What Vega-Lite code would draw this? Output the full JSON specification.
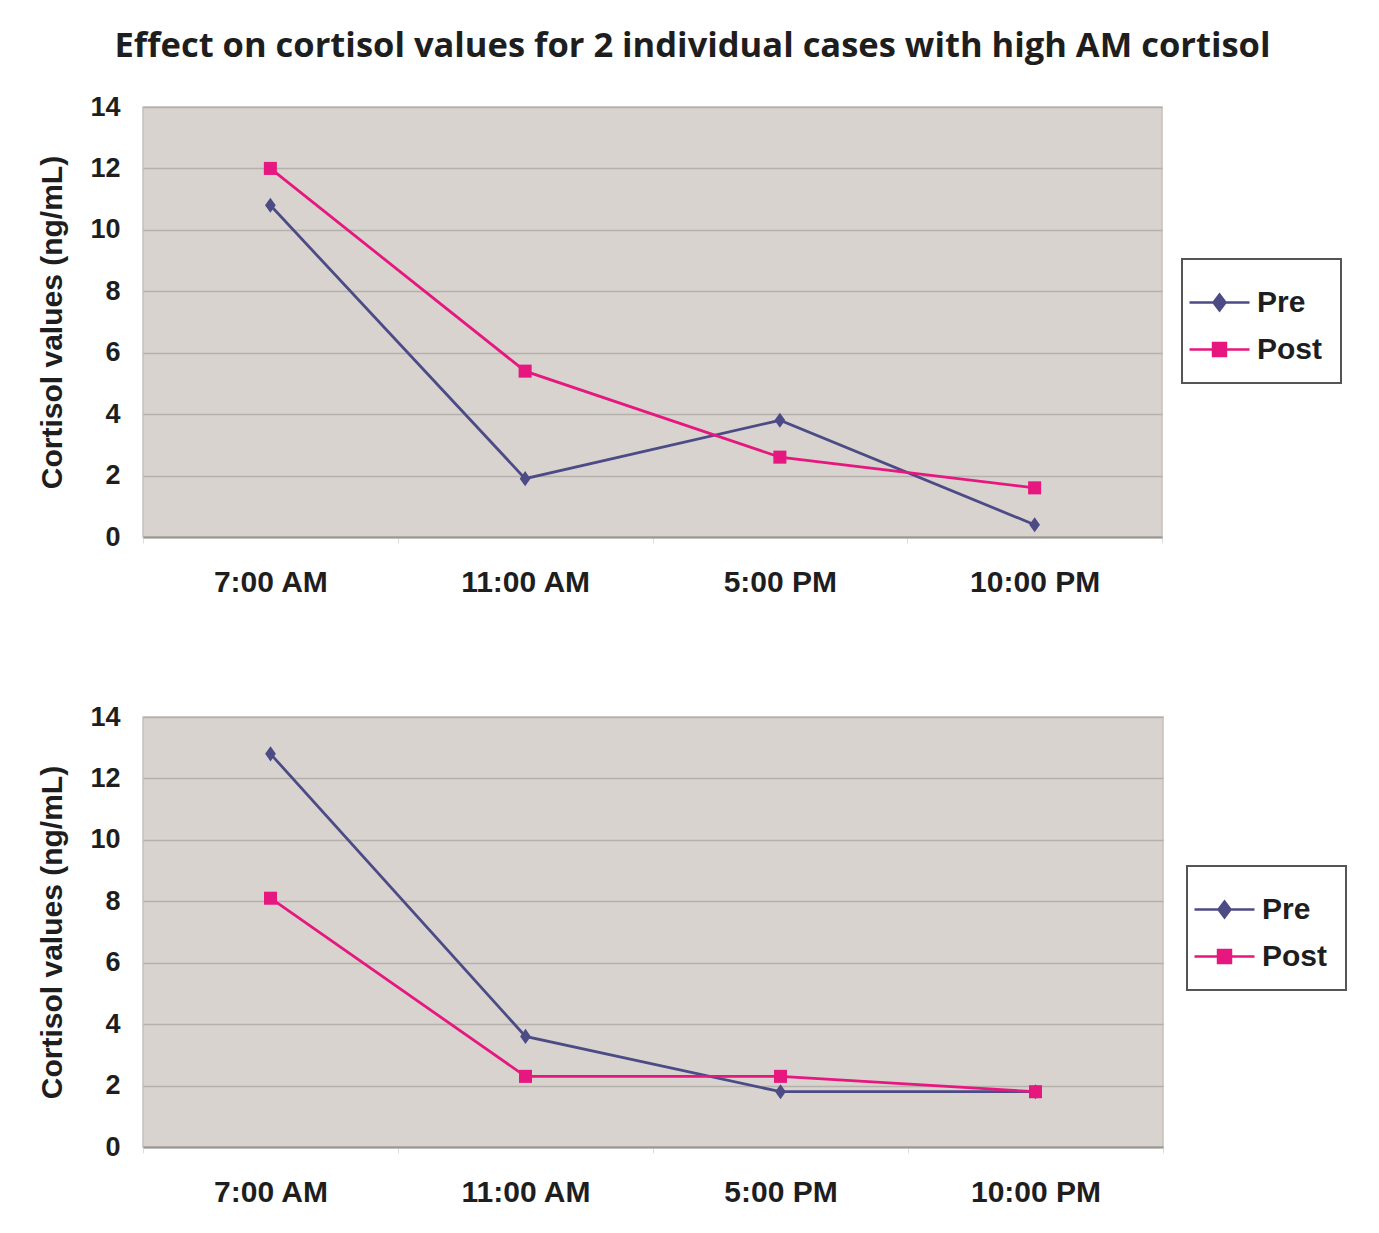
{
  "$schema": "https://vega.github.io/schema/vega-lite/v6.json",
  "padding": {"left": 37, "top": 28, "right": 10, "bottom": 5},
  "background": "white",
  "title": {
    "text": "Effect on cortisol values for 2 individual cases with high AM cortisol",
    "font": "Open Sans",
    "fontWeight": "bold",
    "fontSize": 34.5,
    "color": "#1e1e1e",
    "anchor": "middle",
    "offset": 28
  },
  "data": {
    "values": [
      {"case": 1, "time": "7:00 AM", "series": "Pre", "cortisol": 10.8},
      {"case": 1, "time": "11:00 AM", "series": "Pre", "cortisol": 1.9},
      {"case": 1, "time": "5:00 PM", "series": "Pre", "cortisol": 3.8},
      {"case": 1, "time": "10:00 PM", "series": "Pre", "cortisol": 0.4},
      {"case": 1, "time": "7:00 AM", "series": "Post", "cortisol": 12.0},
      {"case": 1, "time": "11:00 AM", "series": "Post", "cortisol": 5.4},
      {"case": 1, "time": "5:00 PM", "series": "Post", "cortisol": 2.6},
      {"case": 1, "time": "10:00 PM", "series": "Post", "cortisol": 1.6},
      {"case": 2, "time": "7:00 AM", "series": "Pre", "cortisol": 12.8},
      {"case": 2, "time": "11:00 AM", "series": "Pre", "cortisol": 3.6},
      {"case": 2, "time": "5:00 PM", "series": "Pre", "cortisol": 1.8},
      {"case": 2, "time": "10:00 PM", "series": "Pre", "cortisol": 1.8},
      {"case": 2, "time": "7:00 AM", "series": "Post", "cortisol": 8.1},
      {"case": 2, "time": "11:00 AM", "series": "Post", "cortisol": 2.3},
      {"case": 2, "time": "5:00 PM", "series": "Post", "cortisol": 2.3},
      {"case": 2, "time": "10:00 PM", "series": "Post", "cortisol": 1.8}
    ]
  },
  "spacing": 104,
  "vconcat": [
    {
      "width": 1019,
      "height": 430,
      "transform": [{"filter": "datum.case === 1"}],
      "encoding": {
        "x": {
          "field": "time", "type": "ordinal",
          "sort": ["7:00 AM", "11:00 AM", "5:00 PM", "10:00 PM"],
          "scale": {"type": "band", "paddingInner": 0, "paddingOuter": 0},
          "bandPosition": 0.5,
          "title": null
        },
        "y": {
          "field": "cortisol", "type": "quantitative",
          "scale": {"domain": [0, 14], "nice": false},
          "axis": {"values": [0, 2, 4, 6, 8, 10, 12, 14]},
          "title": "Cortisol values (ng/mL)"
        }
      },
      "layer": [
        {
          "mark": {"type": "line", "strokeWidth": 2.8},
          "encoding": {
            "color": {
              "field": "series", "type": "nominal",
              "scale": {"domain": ["Pre", "Post"], "range": ["#4d4b86", "#e6177e"]},
              "legend": {
                "orient": "none", "legendX": 1039, "legendY": 152,
                "title": null,
                "padding": 18,
                "symbolSize": 2304,
                "symbolStrokeWidth": 2.5,
                "symbolOffset": -6,
                "labelOffset": 12,
                "rowPadding": 6,
                "labelFont": "Liberation Sans", "labelFontWeight": "bold", "labelFontSize": 30, "labelColor": "#1e1e1e",
                "strokeColor": "#555555",
                "fillColor": "white",
                "encode": {
                  "legend": {"update": {"strokeWidth": {"value": 2}}},
                  "symbols": {"update": {
                    "shape": {"signal": "datum.value === 'Pre' ? 'M-1.25,0H1.25M0,-0.33L0.25,0L0,0.33L-0.25,0Z' : 'M-1.25,0H1.25M-0.27,-0.27H0.27V0.27H-0.27Z'"},
                    "fill": {"signal": "datum.value === 'Pre' ? '#4d4b86' : '#e6177e'"},
                    "stroke": {"signal": "datum.value === 'Pre' ? '#4d4b86' : '#e6177e'"},
                    "opacity": {"value": 1}
                  }}
                }
              }
            }
          }
        },
        {
          "transform": [{"filter": "datum.series === 'Pre'"}],
          "mark": {"type": "point", "shape": "M0,-1.2L0.85,0L0,1.2L-0.85,0Z", "filled": true, "opacity": 1, "size": 160},
          "encoding": {
            "color": {"field": "series", "type": "nominal", "scale": {"domain": ["Pre", "Post"], "range": ["#4d4b86", "#e6177e"]}, "legend": null}
          }
        },
        {
          "transform": [{"filter": "datum.series === 'Post'"}],
          "mark": {"type": "point", "shape": "square", "filled": true, "opacity": 1, "size": 170},
          "encoding": {
            "color": {"field": "series", "type": "nominal", "scale": {"domain": ["Pre", "Post"], "range": ["#4d4b86", "#e6177e"]}, "legend": null}
          }
        }
      ]
    },
    {
      "width": 1020,
      "height": 430,
      "transform": [{"filter": "datum.case === 2"}],
      "encoding": {
        "x": {
          "field": "time", "type": "ordinal",
          "sort": ["7:00 AM", "11:00 AM", "5:00 PM", "10:00 PM"],
          "scale": {"type": "band", "paddingInner": 0, "paddingOuter": 0},
          "bandPosition": 0.5,
          "title": null
        },
        "y": {
          "field": "cortisol", "type": "quantitative",
          "scale": {"domain": [0, 14], "nice": false},
          "axis": {"values": [0, 2, 4, 6, 8, 10, 12, 14]},
          "title": "Cortisol values (ng/mL)"
        }
      },
      "layer": [
        {
          "mark": {"type": "line", "strokeWidth": 2.8},
          "encoding": {
            "color": {
              "field": "series", "type": "nominal",
              "scale": {"domain": ["Pre", "Post"], "range": ["#4d4b86", "#e6177e"]},
              "legend": {
                "orient": "none", "legendX": 1044, "legendY": 149,
                "title": null,
                "padding": 18,
                "symbolSize": 2304,
                "symbolStrokeWidth": 2.5,
                "symbolOffset": -6,
                "labelOffset": 12,
                "rowPadding": 6,
                "labelFont": "Liberation Sans", "labelFontWeight": "bold", "labelFontSize": 30, "labelColor": "#1e1e1e",
                "strokeColor": "#555555",
                "fillColor": "white",
                "encode": {
                  "legend": {"update": {"strokeWidth": {"value": 2}}},
                  "symbols": {"update": {
                    "shape": {"signal": "datum.value === 'Pre' ? 'M-1.25,0H1.25M0,-0.33L0.25,0L0,0.33L-0.25,0Z' : 'M-1.25,0H1.25M-0.27,-0.27H0.27V0.27H-0.27Z'"},
                    "fill": {"signal": "datum.value === 'Pre' ? '#4d4b86' : '#e6177e'"},
                    "stroke": {"signal": "datum.value === 'Pre' ? '#4d4b86' : '#e6177e'"},
                    "opacity": {"value": 1}
                  }}
                }
              }
            }
          }
        },
        {
          "transform": [{"filter": "datum.series === 'Pre'"}],
          "mark": {"type": "point", "shape": "M0,-1.2L0.85,0L0,1.2L-0.85,0Z", "filled": true, "opacity": 1, "size": 160},
          "encoding": {
            "color": {"field": "series", "type": "nominal", "scale": {"domain": ["Pre", "Post"], "range": ["#4d4b86", "#e6177e"]}, "legend": null}
          }
        },
        {
          "transform": [{"filter": "datum.series === 'Post'"}],
          "mark": {"type": "point", "shape": "square", "filled": true, "opacity": 1, "size": 170},
          "encoding": {
            "color": {"field": "series", "type": "nominal", "scale": {"domain": ["Pre", "Post"], "range": ["#4d4b86", "#e6177e"]}, "legend": null}
          }
        }
      ]
    }
  ],
  "resolve": {
    "scale": {"color": "independent", "x": "independent", "y": "independent"},
    "legend": {"color": "independent"}
  },
  "config": {
    "view": {"fill": "#d8d3cf", "stroke": "#c4c0bc", "strokeWidth": 1.5},
    "axisY": {
      "grid": true, "gridColor": "#b4b0ac", "gridWidth": 1.5,
      "domain": false, "ticks": false,
      "labelFont": "Liberation Sans", "labelFontWeight": "bold", "labelFontSize": 27, "labelColor": "#1e1e1e",
      "labelPadding": 23,
      "titleFont": "Liberation Sans", "titleFontWeight": "bold", "titleFontSize": 30, "titleColor": "#1e1e1e",
      "titlePadding": 22
    },
    "axisX": {
      "grid": false,
      "domain": true, "domainColor": "#9a9792", "domainWidth": 2,
      "ticks": true, "tickBand": "extent", "tickColor": "#dddddd", "tickSize": 6,
      "labelAngle": 0,
      "labelFont": "Liberation Sans", "labelFontWeight": "bold", "labelFontSize": 30, "labelColor": "#1e1e1e",
      "labelPadding": 24
    }
  }
}
